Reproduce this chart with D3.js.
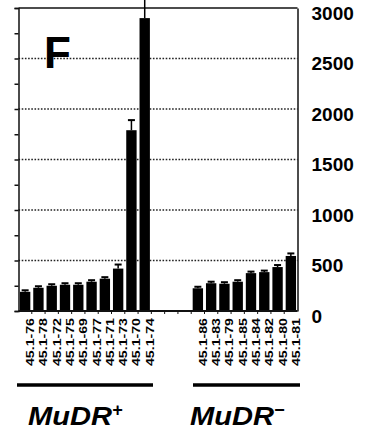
<!DOCTYPE html>
<html>
<head>
<meta charset="utf-8">
<script src="https://cdn.jsdelivr.net/npm/d3@7"></script>
<style>
  body { margin: 0; background: #fff; }
  svg { display: block; font-family: "Liberation Sans", Arial, sans-serif; }
</style>
</head>
<body>
<svg id="chart"></svg>
<script>
// lines, left group (MuDR+) then right group (MuDR-)
const plusLines = ["45.1-76", "45.1-78", "45.1-72", "45.1-75", "45.1-69", "45.1-77", "45.1-71", "45.1-73", "45.1-70", "45.1-74"];
const plusValues = [190, 230, 250, 260, 260, 290, 320, 420, 1790, 2900];
const plusErrors = [15, 15, 15, 15, 15, 15, 15, 40, 100, 320];

const minusLines = ["45.1-86", "45.1-83", "45.1-79", "45.1-85", "45.1-84", "45.1-82", "45.1-80", "45.1-81"];
const minusValues = [225, 275, 270, 290, 375, 385, 435, 545];
const minusErrors = [15, 15, 15, 15, 15, 15, 20, 25];

const gapSlots = ["gap1", "gap2", "gap3"];
const yTicks = [0, 500, 1000, 1500, 2000, 2500, 3000];

const width = 366;
const height = 434;
const plotLeft = 18.5, plotRight = 297.5, plotTop = 8, base = 311;

const data = [
  ...plusLines.map((n, i) => ({ name: n, value: plusValues[i], err: plusErrors[i] })),
  ...gapSlots.map((n) => ({ name: n, value: null, err: 0 })),
  ...minusLines.map((n, i) => ({ name: n, value: minusValues[i], err: minusErrors[i] })),
];

const x = d3.scaleBand()
  .domain(data.map((d) => d.name))
  .range([plotLeft, plotRight])
  .paddingInner(0.22)
  .paddingOuter(0.11);

const y = d3.scaleLinear().domain([0, 3000]).range([base, plotTop]);

const svg = d3.select("#chart").attr("width", width).attr("height", height);

// dotted grid lines
svg.append("g")
  .selectAll("line")
  .data(yTicks.filter((t) => t > 0 && t < 3000))
  .join("line")
  .attr("x1", plotLeft).attr("x2", plotRight)
  .attr("y1", (d) => y(d)).attr("y2", (d) => y(d))
  .attr("stroke", "#222")
  .attr("stroke-width", 1.3)
  .attr("stroke-dasharray", "1.6,1.6");

// frame top
svg.append("line")
  .attr("x1", plotLeft).attr("x2", plotRight)
  .attr("y1", y(3000)).attr("y2", y(3000))
  .attr("stroke", "#111").attr("stroke-width", 1.4);

// left axis with minor ticks every 250
svg.append("g")
  .attr("transform", `translate(${plotLeft},0)`)
  .call(d3.axisLeft(y).tickValues(d3.range(0, 3001, 250)).tickSize(4).tickFormat(""))
  .call((g) => g.selectAll("path, line").attr("stroke", "#111").attr("stroke-width", 1.5));

// right axis with labels
svg.append("g")
  .attr("transform", `translate(${plotRight},0)`)
  .call(d3.axisRight(y).tickValues(yTicks).tickFormat(d3.format("d")).tickSize(0).tickSizeOuter(0).tickPadding(14))
  .call((g) => g.select(".domain").attr("stroke", "#111").attr("stroke-width", 1.5))
  .call((g) => g.selectAll("text")
    .attr("font-family", "'Liberation Sans', Arial, sans-serif")
    .attr("font-size", 19)
    .attr("font-weight", "bold")
    .attr("fill", "#000")
    .attr("dy", "0.6em"));

// bars
const bars = data.filter((d) => d.value != null);
svg.append("g")
  .selectAll("rect")
  .data(bars)
  .join("rect")
  .attr("x", (d) => x(d.name))
  .attr("width", x.bandwidth())
  .attr("y", (d) => y(d.value))
  .attr("height", (d) => y(0) - y(d.value))
  .attr("fill", "#000");

// error bars
const eb = svg.append("g").attr("stroke", "#000").attr("stroke-width", 1.5);
eb.selectAll("line.stem")
  .data(bars)
  .join("line")
  .attr("class", "stem")
  .attr("x1", (d) => x(d.name) + x.bandwidth() / 2)
  .attr("x2", (d) => x(d.name) + x.bandwidth() / 2)
  .attr("y1", (d) => y(d.value))
  .attr("y2", (d) => y(d.value + d.err));
eb.selectAll("line.cap")
  .data(bars)
  .join("line")
  .attr("class", "cap")
  .attr("x1", (d) => x(d.name) + x.bandwidth() / 2 - 3.5)
  .attr("x2", (d) => x(d.name) + x.bandwidth() / 2 + 3.5)
  .attr("y1", (d) => y(d.value + d.err))
  .attr("y2", (d) => y(d.value + d.err))
  .attr("stroke-width", 2);

// baseline with slot-boundary ticks
svg.append("line")
  .attr("x1", plotLeft).attr("x2", plotRight)
  .attr("y1", base).attr("y2", base)
  .attr("stroke", "#111").attr("stroke-width", 2);
svg.append("g")
  .selectAll("line")
  .data(data.slice(0, -1))
  .join("line")
  .attr("x1", (d) => x(d.name) + x.step() - (x.step() - x.bandwidth()) / 2)
  .attr("x2", (d) => x(d.name) + x.step() - (x.step() - x.bandwidth()) / 2)
  .attr("y1", base).attr("y2", base + 3)
  .attr("stroke", "#111").attr("stroke-width", 1);

// rotated line labels
svg.append("g")
  .selectAll("text")
  .data(data.filter((d) => d.value != null))
  .join("text")
  .attr("transform", (d) => `translate(${x(d.name) + x.bandwidth() / 2 + 5},318) rotate(-90)`)
  .attr("text-anchor", "end")
  .attr("dy", "0.36em")
  .attr("font-size", 11)
  .attr("font-weight", "bold")
  .attr("textLength", 48)
  .attr("lengthAdjust", "spacingAndGlyphs")
  .text((d) => d.name);

// group bars and labels
const groups = [
  { label: "MuDR", sup: "+" },
  { label: "MuDR", sup: "\u2212" },
];
const gx0 = [17, 193], gx1 = [153, 300], tx = [28, 190];
groups.forEach((g, i) => {
  svg.append("line")
    .attr("x1", gx0[i]).attr("x2", gx1[i])
    .attr("y1", 385).attr("y2", 385)
    .attr("stroke", "#000").attr("stroke-width", 3.5);
  const t = svg.append("text")
    .attr("x", tx[i]).attr("y", 425)
    .attr("font-size", 25)
    .attr("font-weight", "bold")
    .attr("font-style", "italic");
  t.append("tspan").attr("textLength", 84).attr("lengthAdjust", "spacingAndGlyphs").text(g.label);
  t.append("tspan").attr("dy", -9).attr("font-size", 18).text(g.sup);
});

// panel letter
svg.append("text")
  .attr("x", 44).attr("y", 68)
  .attr("font-size", 44)
  .attr("font-weight", "bold")
  .text("F");
</script>
</body>
</html>
